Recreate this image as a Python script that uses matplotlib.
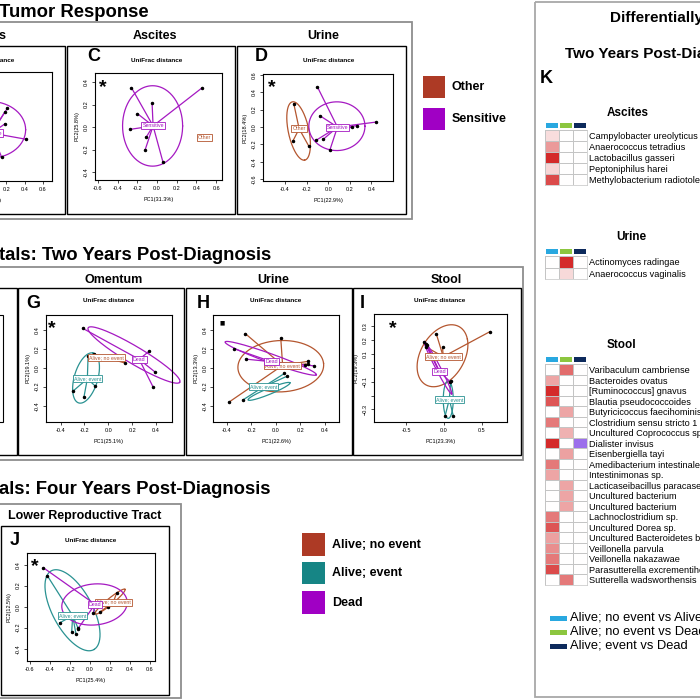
import numpy as np
import matplotlib
matplotlib.use('Agg')
import matplotlib.pyplot as plt
from matplotlib.patches import Rectangle
from matplotlib.colors import LinearSegmentedColormap
from matplotlib.ticker import FormatStrFormatter

plt.rcParams['font.family'] = ['Liberation Sans', 'DejaVu Sans']

# ---------------- data ----------------
# Tumor response panels (Sensitive / Other)
b_sens_pts = [(0.212, 0.167), (0.187, 0.136), (0.184, 0.023), (0.416, -0.117), (0.151, -0.283)]
b_sens_cent = (0.04, -0.06)
b_sens_ell = (0.022, -0.03, 0.39, 0.26, 0)

c_sens_pts = [(-0.26, 0.35), (-0.05, 0.21), (-0.20, 0.12), (-0.27, -0.02),
              (-0.11, -0.09), (-0.12, -0.20), (0.06, -0.31), (0.46, 0.35)]
c_sens_cent = (-0.04, 0.01)
c_sens_ell = (-0.045, 0.01, 0.305, 0.357, 0)
c_other_cent = (0.48, -0.09)

d_other_pts = [(-0.32, 0.27), (-0.33, -0.165), (-0.18, -0.22)]
d_other_cent = (-0.27, -0.02)
d_other_ell = (-0.275, -0.045, 0.34, 0.096, -80.7)
d_sens_pts = [(-0.10, 0.46), (-0.077, 0.13), (-0.11, -0.15), (-0.046, -0.14),
              (0.016, -0.26), (0.22, 0.0), (0.27, 0.015), (0.44, 0.057)]
d_sens_cent = (0.085, 0.0)
d_sens_ell = (0.08, 0.01, 0.26, 0.28, 0)

# Vitals, two years
g_noev_pts = [(0.14, 0.05), (-0.12, 0.14)]
g_noev_cent = (-0.013, 0.105)
g_event_pts = [(-0.17, 0.12), (-0.30, -0.25), (-0.204, -0.305), (-0.112, -0.19)]
g_event_cent = (-0.176, -0.116)
g_event_ell = (-0.187, -0.108, 0.27, 0.10, 78)
g_dead_pts = [(-0.215, 0.415), (0.345, 0.176), (0.39, -0.042), (0.378, -0.206)]
g_dead_cent = (0.26, 0.088)
g_dead_ell = (0.216, 0.134, 0.48, 0.085, -37)

h_noev_pts = [(-0.25, 0.36), (0.04, 0.31), (-0.38, -0.36), (0.26, 0.067), (0.26, 0.04)]
h_noev_cent = (0.055, 0.025)
h_noev_ell = (0.04, 0.016, 0.35, 0.27, 5)
h_event_pts = [(0.07, -0.06), (0.09, -0.09), (-0.27, -0.34)]
h_event_cent = (-0.10, -0.20)
h_event_ell = (-0.056, -0.249, 0.193, 0.03, 28)
h_dead_pts = [(-0.34, 0.20), (-0.24, 0.09), (0.24, 0.03), (0.31, 0.02)]
h_dead_cent = (-0.035, 0.063)
h_dead_ell = (-0.042, 0.099, 0.41, 0.045, -25)

i_noev_pts = [(0.61, 0.26), (-0.10, 0.24), (-0.02, 0.147), (-0.24, 0.15)]
i_noev_cent = (-0.01, 0.079)
i_noev_ell = (-0.02, 0.086, 0.35, 0.20, 20)
i_event_pts = [(0.013, -0.35), (0.124, -0.35), (0.09, -0.094)]
i_event_cent = (0.07, -0.227)
i_event_ell = (0.056, -0.229, 0.066, 0.135, 0)
i_dead_pts = [(-0.26, 0.187), (-0.24, 0.17), (-0.22, 0.16), (0.08, -0.10)]
i_dead_cent = (-0.06, -0.029)
i_dead_ell = (-0.08, 0.0, 0.262, 0.025, -45.8)

# Vitals, four years
j_noev_pts = [(0.267, 0.133), (0.183, -0.006), (0.10, -0.05)]
j_noev_cent = (0.233, 0.042)
j_noev_ell = (0.20, 0.048, 0.19, 0.03, 38)
j_event_pts = [(-0.427, 0.295), (-0.30, -0.152), (-0.183, -0.238), (-0.14, -0.263), (-0.117, -0.21)]
j_event_cent = (-0.173, -0.086)
j_event_ell = (-0.175, -0.034, 0.431, 0.197, -59.9)
j_dead_pts = [(-0.467, 0.371), (-0.117, -0.206), (0.033, -0.063)]
j_dead_cent = (0.05, 0.023)
j_dead_ell = (0.045, 0.021, 0.328, 0.195, 5)

# Differentially abundant taxa (cols: noev vs event, noev vs dead, event vs dead)
asc_taxa = ['Campylobacter ureolyticus', 'Anaerococcus tetradius', 'Lactobacillus gasseri',
            'Peptoniphilus harei', 'Methylobacterium radiotolerans']
asc_vals = [[0.15, 0, 0], [0.45, 0, 0], [0.95, 0, 0], [0.18, 0, 0], [0.8, 0, 0]]
uri_taxa = ['Actinomyces radingae', 'Anaerococcus vaginalis']
uri_vals = [[0, 0.95, 0], [0, 0.17, 0]]
stool_taxa = ['Varibaculum cambriense', 'Bacteroides ovatus', '[Ruminococcus] gnavus',
              'Blautia pseudococcoides', 'Butyricicoccus faecihominis', 'Clostridium sensu stricto 1',
              'Uncultured Coprococcus sp.', 'Dialister invisus', 'Eisenbergiella tayi',
              'Amedibacterium intestinale', 'Intestinimonas sp.', 'Lacticaseibacillus paracasei',
              'Uncultured bacterium', 'Uncultured bacterium', 'Lachnoclostridium sp.',
              'Uncultured Dorea sp.', 'Uncultured Bacteroidetes bacterium', 'Veillonella parvula',
              'Veillonella nakazawae', 'Parasutterella excrementihominis', 'Sutterella wadsworthensis']
stool_vals = [[0, 0.65, 0], [0.4, 0, 0], [0.95, 0, 0], [0.75, 0, 0], [0, 0.4, 0],
              [0.6, 0, 0], [0, 0.35, 0], [0.95, 0, -0.75], [0, 0.42, 0], [0.6, 0, 0],
              [0.4, 0, 0], [0, 0.4, 0], [0, 0.4, 0], [0, 0.4, 0], [0.6, 0, 0],
              [0.75, 0, 0], [0.42, 0, 0], [0.5, 0, 0], [0.6, 0, 0], [0.8, 0, 0], [0, 0.6, 0]]
comparisons = ['Alive; no event vs Alive; event', 'Alive; no event vs Dead', 'Alive; event vs Dead']
comp_colors = ['#29A8E0', '#8CC63F', '#0D2A5C']

# colours
C_OTHER = '#B4562F'
C_SENS = '#A519C2'
C_NOEV = '#B4562F'
C_EVENT = '#2A9292'
C_DEAD = '#A519C2'
SQ_BROWN = '#AD3A25'
SQ_TEAL = '#168585'
SQ_PURPLE = '#A000C4'
GRAY = '#8E8E8E'

W = H = 700
fig = plt.figure(figsize=(7, 7), dpi=100)
bg = fig.add_axes([0, 0, 1, 1])
bg.set_xlim(0, W)
bg.set_ylim(H, 0)
bg.axis('off')


def rect(x0, y0, x1, y1):
    return [x0 / W, 1 - y1 / H, (x1 - x0) / W, (y1 - y0) / H]


def box(x0, y0, x1, y1, color='black', lw=1.0):
    bg.add_patch(Rectangle((x0, y0), x1 - x0, y1 - y0, fill=False, ec=color, lw=lw, clip_on=False))


def txt(x, y, s, size, weight='bold', ha='left', **kw):
    bg.text(x, y, s, fontsize=size, fontweight=weight, ha=ha, va='baseline', **kw)


def star(x, y, s='*'):
    fig.text(x / W, 1 - (y + 10) / H, s, fontsize=14, fontweight='bold', ha='center', va='baseline')


def ellipse_xy(cx, cy, a, b, ang):
    t = np.linspace(0, 2 * np.pi, 200)
    th = np.deg2rad(ang)
    x = cx + a * np.cos(t) * np.cos(th) - b * np.sin(t) * np.sin(th)
    y = cy + a * np.cos(t) * np.sin(th) + b * np.sin(t) * np.cos(th)
    return x, y


def pcoa(frame, xlim, ylim, xt, yt, xlab, ylab, groups, ytl=None):
    ax = fig.add_axes(rect(*frame))
    ax.set_xlim(xlim)
    ax.set_ylim(ylim)
    ax.set_xticks(xt)
    ax.set_yticks(yt)
    ax.xaxis.set_major_formatter(FormatStrFormatter('%.1f'))
    ax.yaxis.set_major_formatter(FormatStrFormatter('%.1f'))
    if ytl is not None:
        ax.set_yticklabels(ytl)
    ax.tick_params(labelsize=4, length=2.5, width=0.5, pad=1.8)
    ax.tick_params(axis='y', labelrotation=90)
    for lbl in ax.get_yticklabels():
        lbl.set_va('center')
    for sp in ax.spines.values():
        sp.set_linewidth(0.8)
    ax.set_xlabel(xlab, fontsize=4, labelpad=4.5)
    ax.set_ylabel(ylab, fontsize=4, labelpad=3)
    for pts, cent, ell, col, lab in groups:
        for px, py in pts:
            ax.plot([px, cent[0]], [py, cent[1]], color=col, lw=0.9, zorder=2)
        if ell is not None:
            ax.plot(*ellipse_xy(*ell), color=col, lw=0.9, zorder=2, clip_on=False)
        if pts:
            xs, ys = zip(*pts)
            ax.plot(xs, ys, 'o', color='black', ms=1.5, zorder=3)
    for pts, cent, ell, col, lab in groups:
        ax.text(cent[0], cent[1], lab, fontsize=3.8, color=col, ha='center', va='center', zorder=4,
                bbox=dict(boxstyle='square,pad=0.2', fc='white', ec=col, lw=0.6))
    return ax


def heat(frame, taxa, vals):
    ax = fig.add_axes(rect(*frame))
    cmap = LinearSegmentedColormap.from_list('dab', ['#7B3FE4', '#FFFFFF', '#D21F1F'])
    v = np.array(vals, dtype=float)
    ax.pcolormesh(v, cmap=cmap, vmin=-1, vmax=1, edgecolors='#C4C4C4', linewidth=0.5)
    ax.set_ylim(len(taxa), 0)
    ax.set_xlim(0, 3)
    ax.set_xticks([])
    ax.set_yticks(np.arange(len(taxa)) + 0.5)
    ax.set_yticklabels(taxa)
    ax.yaxis.tick_right()
    ax.tick_params(length=0, pad=2, labelsize=6.6)
    for sp in ax.spines.values():
        sp.set_color('#C4C4C4')
        sp.set_linewidth(0.5)
    # comparison colour strip, 5 px tall, 2 px above the grid
    rows_per_px = len(taxa) / (frame[3] - frame[1])
    ax.bar(np.arange(3) + 0.5, 5 * rows_per_px, bottom=-7 * rows_per_px,
           width=0.86, color=comp_colors, clip_on=False)
    return ax


# ---------------- section boxes ----------------
box(-5, 22, 412, 219, GRAY, 1.3)
box(-105, 46, 65, 214)
box(67, 46, 235, 214)
box(237, 46, 406, 214)

box(-5, 266.7, 522.7, 460, GRAY, 1.3)
box(-150, 287.7, 17.3, 455)
box(-130, 315, 3.3, 421.7, 'black', 0.8)
box(18.3, 287.7, 184.3, 455)
box(185.7, 287.7, 352.3, 455)
box(353.3, 287.7, 520.7, 455)

box(-5, 504, 181, 698.3, GRAY, 1.3)
box(1, 526, 169, 695)

box(535, 2, 712, 697, '#A8A8A8', 1.3)

# ---------------- titles ----------------
txt(-1, 17, 'Tumor Response', 13.3)
txt(6.5, 39.3, 'Ovaries', 9, ha='right')
txt(155, 39.3, 'Ascites', 9, ha='center')
txt(323, 39.3, 'Urine', 9, ha='center')
txt(87, 61, 'C', 13)
txt(255, 61, 'D', 13)
for cx in (-11, 157, 328.3):
    bg.text(cx, 60, 'UniFrac distance', fontsize=4.6, fontweight='bold', ha='center', va='center')

txt(-1, 260, 'tals: Two Years Post-Diagnosis', 13.3)
txt(113.3, 283, 'Omentum', 9, ha='center')
txt(273.3, 283, 'Urine', 9, ha='center')
txt(446.7, 283, 'Stool', 9, ha='center')
txt(26.7, 307.7, 'G', 13)
txt(196.7, 307.7, 'H', 13)
txt(360, 307.7, 'I', 13)
for cx in (108.3, 276, 439.3):
    bg.text(cx, 301, 'UniFrac distance', fontsize=4.6, fontweight='bold', ha='center', va='center')

txt(-1, 494, 'als: Four Years Post-Diagnosis', 13.3)
txt(85, 519.3, 'Lower Reproductive Tract', 9, ha='center')
txt(10, 545, 'J', 13)
bg.text(91, 540, 'UniFrac distance', fontsize=4.6, fontweight='bold', ha='center', va='center')

# legends
for (y0, y1), col, lab in zip([(75.7, 97.7), (107.7, 130)], [SQ_BROWN, SQ_PURPLE], ['Other', 'Sensitive']):
    bg.add_patch(Rectangle((422.7, y0), 22.3, y1 - y0, fc=col, ec='none'))
    bg.text(452, (y0 + y1) / 2, lab, fontsize=9, fontweight='bold', va='center')
for (y0, y1), col, lab in zip([(533.3, 555.7), (561.7, 584.3), (591, 614)],
                              [SQ_BROWN, SQ_TEAL, SQ_PURPLE], ['Alive; no event', 'Alive; event', 'Dead']):
    bg.add_patch(Rectangle((301.7, y0), 23.3, y1 - y0, fc=col, ec='none'))
    bg.text(331.7, (y0 + y1) / 2, lab, fontsize=9, fontweight='bold', va='center')

# K panel
txt(610, 21.7, 'Differentially Abundant Taxa', 11)
txt(565, 58.3, 'Two Years Post-Diagnosis', 11)
txt(540, 82.7, 'K', 13)
txt(628, 116, 'Ascites', 8.5, ha='center')
txt(631.7, 240, 'Urine', 8.5, ha='center')
txt(621.7, 348.3, 'Stool', 8.5, ha='center')
for y, col, lab in zip([618, 632, 646], comp_colors, comparisons):
    bg.add_patch(Rectangle((550, y - 2.5), 17, 5, fc=col, ec='none'))
    bg.text(570, y, lab, fontsize=9.3, va='center')

# ---------------- PCoA panels ----------------
t6 = [-0.6, -0.4, -0.2, 0.0, 0.2, 0.4, 0.6]
t4 = [-0.4, -0.2, 0.0, 0.2, 0.4]

pcoa((-78, 72, 52, 181), (-0.72, 0.7), (-0.5, 0.5), t6, t4, 'PC1(28.9%)', 'PC2(15.2%)',
     [(b_sens_pts, b_sens_cent, b_sens_ell, C_SENS, 'Sensitive')])
pcoa((95, 73, 222, 180), (-0.63, 0.66), (-0.47, 0.48), t6, t4, 'PC1(31.3%)', 'PC2(25.8%)',
     [(c_sens_pts, c_sens_cent, c_sens_ell, C_SENS, 'Sensitive'),
      ([], c_other_cent, None, C_OTHER, 'Other')])
pcoa((263, 74, 393, 181), (-0.605, 0.6), (-0.62, 0.61), t4, t6, 'PC1(22.9%)', 'PC2(18.4%)',
     [(d_other_pts, d_other_cent, d_other_ell, C_OTHER, 'Other'),
      (d_sens_pts, d_sens_cent, d_sens_ell, C_SENS, 'Sensitive')])

pcoa((45.7, 315, 171.7, 421.7), (-0.526, 0.533), (-0.568, 0.555), t4, t4, 'PC1(25.1%)', 'PC2(19.1%)',
     [(g_dead_pts, g_dead_cent, g_dead_ell, C_DEAD, 'Dead'),
      (g_noev_pts, g_noev_cent, None, C_NOEV, 'Alive; no event'),
      (g_event_pts, g_event_cent, g_event_ell, C_EVENT, 'Alive; event')])
pcoa((213.3, 315, 339.3, 421.7), (-0.51, 0.517), (-0.568, 0.555), t4, t4, 'PC1(22.6%)', 'PC2(13.3%)',
     [(h_noev_pts, h_noev_cent, h_noev_ell, C_NOEV, 'Alive; no event'),
      (h_event_pts, h_event_cent, h_event_ell, C_EVENT, 'Alive; event'),
      (h_dead_pts, h_dead_cent, h_dead_ell, C_DEAD, 'Dead')])
pcoa((374, 314, 507.3, 421.7), (-0.926, 0.837), (-0.388, 0.386), [-0.5, 0.0, 0.5],
     [-0.3, -0.2, -0.1, 0.0, 0.1, 0.2, 0.3], 'PC1(23.3%)', 'PC2(19.3%)',
     [(i_noev_pts, i_noev_cent, i_noev_ell, C_NOEV, 'Alive; no event'),
      (i_event_pts, i_event_cent, i_event_ell, C_EVENT, 'Alive; event'),
      (i_dead_pts, i_dead_cent, i_dead_ell, C_DEAD, 'Dead')],
     ytl=['\u22120.3', '', '\u22120.1', '', '0.1', '0.2', '0.3'])

pcoa((26.7, 553.3, 155, 661), (-0.633, 0.65), (-0.517, 0.508), t6, t4, 'PC1(25.4%)', 'PC2(12.5%)',
     [(j_event_pts, j_event_cent, j_event_ell, C_EVENT, 'Alive; event'),
      (j_noev_pts, j_noev_cent, j_noev_ell, C_NOEV, 'Alive; no event'),
      (j_dead_pts, j_dead_cent, j_dead_ell, C_DEAD, 'Dead')])

star(103, 82)
star(272, 82)
star(51.7, 322.7)
star(392.7, 322.7)
star(35, 560.7)
fig.text(221.7 / W, 1 - 322.7 / H, '\u25A0', fontsize=4, ha='center', va='center', family='DejaVu Sans')

# ---------------- heatmaps ----------------
heat((545, 130, 586.7, 185), asc_taxa, asc_vals)
heat((545, 256, 586.7, 279.3), uri_taxa, uri_vals)
heat((545, 364.3, 586.7, 585), stool_taxa, stool_vals)

fig.savefig('out.png', dpi=100)
